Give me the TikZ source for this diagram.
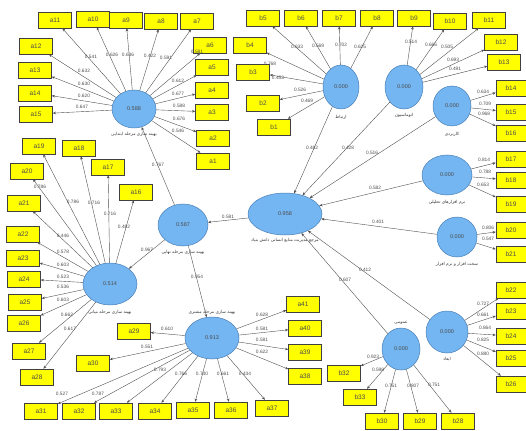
\documentclass[tikz,border=0pt]{standalone}
\usepackage{fontspec}
\setmainfont{Liberation Sans}
\newfontfamily\fa[Script=Arabic]{DejaVu Sans}
\TeXXeTstate=1
\usetikzlibrary{shapes.geometric,arrows.meta}
\definecolor{boxy}{HTML}{FFFF00}
\definecolor{ellb}{HTML}{74B6F2}
\definecolor{elld}{HTML}{4A7FB5}
\definecolor{lnc}{HTML}{505050}
\tikzset{
 ind/.style={draw=black!75, fill=boxy, line width=0.5pt, minimum width=33pt, minimum height=16pt, inner sep=0pt, font=\fontsize{6.5}{7}\selectfont, text=black!70},
 indr/.style={ind, minimum width=30pt},
 lv/.style={ellipse, draw=elld, fill=ellb, line width=0.5pt, inner sep=0pt, font=\fontsize{5.5}{6}\selectfont, text=black!70},
 ar/.style={draw=lnc, line width=0.4pt, -{Stealth[length=3.2pt,width=2.6pt]}},
 lab/.style={font=\fontsize{4.8}{5}\selectfont, text=black!70, inner sep=0.5pt},
 falab/.style={font=\fa\fontsize{4.3}{5}\selectfont, text=black!80, inner sep=0pt},
}
\newcommand\rtl[1]{\beginR #1\endR}
\newcommand\ld[4]{\draw[ar] (#1) -- (#2); \node[lab] (l-#2) at (#3) {#4};}
\begin{document}
\begin{tikzpicture}[x=1pt,y=-1pt]
\useasboundingbox (0,0) rectangle (526,430);
% latent variables
\node[lv, minimum width=44pt, minimum height=38pt] (e588) at (134,109) {0.588};
\node[falab] (t588) at (134,134) {\rtl{بهینه سازی مرحله ابتدایی}};
\node[lv, minimum width=36pt, minimum height=44pt] (eb1) at (341,87) {0.000};
\node[falab] (tb1) at (341,117) {\rtl{ارتباط}};
\node[lv, minimum width=38pt, minimum height=44pt] (eb2) at (404,87) {0.000};
\node[falab] (tb2) at (404,115) {\rtl{اتوماسیون}};
\node[lv, minimum width=38pt, minimum height=40pt] (eb3) at (452,106) {0.000};
\node[falab] (tb3) at (452,134) {\rtl{کاربردی}};
\node[lv, minimum width=50pt, minimum height=40pt] (eb4) at (447,175) {0.000};
\node[falab] (tb4) at (447,202) {\rtl{نرم افزارهای تحلیلی}};
\node[lv, minimum width=40pt, minimum height=40pt] (eb5) at (457,237) {0.000};
\node[falab] (tb5) at (457,264) {\rtl{سخت افزار و نرم افزار}};
\node[lv, minimum width=42pt, minimum height=42pt] (eb6) at (447,332) {0.000};
\node[falab] (tb6) at (447,359) {\rtl{ابعاد}};
\node[lv, minimum width=38pt, minimum height=42pt] (eb7) at (401,349) {0.000};
\node[falab] (tb7) at (401,323) {\rtl{عمومی}};
\node[lv, minimum width=74pt, minimum height=42pt] (ec) at (285,214) {0.958};
\node[falab] (tc) at (285,240) {\rtl{مرجع مدیریت منابع انسانی دانش بنیاد}};
\node[lv, minimum width=50pt, minimum height=42pt] (e587) at (183,225) {0.587};
\node[falab] (t587) at (183,252) {\rtl{بهینه سازی مرحله نهایی}};
\node[lv, minimum width=54pt, minimum height=42pt] (e514) at (110,284) {0.514};
\node[falab] (t514) at (110,312) {\rtl{بهینه سازی مرحله میانی}};
\node[lv, minimum width=54pt, minimum height=42pt] (e913) at (212,338) {0.913};
\node[falab] (t913) at (212,312) {\rtl{بهینه سازی مرحله مشتری}};
% indicators a
\foreach \n/\x/\y in {a1/213/161,a2/213/138,a3/212/112,a4/212/90,a5/212/67,a6/210/45,a7/197/21,a8/161/21,a9/126/20,a10/93/19,a11/55/20,a12/36/46,a13/35/70,a14/35/93,a15/36/114,
 a16/136/192,a17/108/167,a18/79/148,a19/39/146,a20/27/171,a21/24/203,a22/23/234,a23/23/258,a24/24/279,a25/25/302,a26/24/323,a27/29/351,a28/37/377,
 a29/134/331,a30/93/363,a31/41/411,a32/79/411,a33/116/411,a34/155/411,a35/193/410,a36/231/410,a37/272/408,a38/305/376,a39/305/352,a40/305/328,a41/303/304,
 b1/274/127,b2/263/103,b3/253/72,b4/250/45,b5/263/18,b6/301/18,b7/339/18,b8/377/18,b9/414/18,b10/450/21,b11/489/20,b12/501/42,b13/504/62,
 b28/458/421,b29/420/421,b30/382/421,b32/344/373,b33/360/397}
 {\node[ind] (\n) at (\x,\y) {\n};}
\foreach \n/\y in {b14/88,b15/112,b16/133,b17/159,b18/180,b19/204,b20/230,b21/254,b22/290,b23/311,b24/336,b25/358,b26/384}
 {\node[indr] (\n) at (511,\y) {\n};}
% loadings 0.588
\ld{e588}{a11}{91,57}{0.541}
\ld{e588}{a10}{112,55}{0.626}
\ld{e588}{a9}{128,55}{0.636}
\ld{e588}{a8}{150,56}{0.422}
\ld{e588}{a7}{166,58}{0.591}
\ld{e588}{a6}{197,52}{0.581}
\ld{e588}{a5}{178,81}{0.612}
\ld{e588}{a4}{178,94}{0.677}
\ld{e588}{a3}{179,106}{0.588}
\ld{e588}{a2}{179,119}{0.676}
\ld{e588}{a1}{178,131}{0.546}
\ld{e588}{a12}{84,71}{0.632}
\ld{e588}{a13}{84,84}{0.630}
\ld{e588}{a14}{84,96}{0.620}
\ld{e588}{a15}{82,107}{0.647}
% loadings 0.514
\ld{e514}{a20}{40,187}{0.786}
\ld{e514}{a19}{73,202}{0.786}
\ld{e514}{a18}{94,203}{0.716}
\ld{e514}{a17}{110,214}{0.716}
\ld{e514}{a16}{124,227}{0.482}
\ld{e514}{a21}{63,236}{0.446}
\ld{e514}{a22}{63,252}{0.578}
\ld{e514}{a23}{63,265}{0.603}
\ld{e514}{a24}{63,277}{0.523}
\ld{e514}{a25}{63,287}{0.536}
\ld{e514}{a26}{63,300}{0.603}
\ld{e514}{a27}{67,315}{0.662}
\ld{e514}{a28}{70,329}{0.617}
% loadings 0.913
\ld{e913}{a29}{167,329}{0.610}
\ld{e913}{a30}{147,347}{0.551}
\ld{e913}{a31}{62,394}{0.527}
\ld{e913}{a32}{98,394}{0.787}
\ld{e913}{a33}{160,370}{0.793}
\ld{e913}{a34}{181,374}{0.766}
\ld{e913}{a35}{202,374}{0.740}
\ld{e913}{a36}{223,374}{0.661}
\ld{e913}{a37}{245,374}{0.434}
\ld{e913}{a38}{262,352}{0.622}
\ld{e913}{a39}{262,340}{0.581}
\ld{e913}{a40}{262,329}{0.581}
\ld{e913}{a41}{262,315}{0.628}
% loadings b
\ld{eb1}{b5}{297,47}{0.633}
\ld{eb1}{b6}{318,46}{0.569}
\ld{eb1}{b7}{341,45}{0.702}
\ld{eb1}{b8}{360,47}{0.625}
\ld{eb1}{b4}{270,64}{0.768}
\ld{eb1}{b3}{278,78}{0.453}
\ld{eb1}{b2}{300,90}{0.526}
\ld{eb1}{b1}{307,101}{0.469}
\ld{eb2}{b9}{411,42}{0.514}
\ld{eb2}{b10}{431,45}{0.666}
\ld{eb2}{b11}{447,47}{0.505}
\ld{eb2}{b12}{453,60}{0.693}
\ld{eb2}{b13}{455,69}{0.491}
\ld{eb3}{b14}{483,92}{0.634}
\ld{eb3}{b15}{485,104}{0.709}
\ld{eb3}{b16}{484,114}{0.968}
\ld{eb4}{b17}{484,160}{0.814}
\ld{eb4}{b18}{485,172}{0.788}
\ld{eb4}{b19}{483,185}{0.653}
\ld{eb5}{b20}{488,228}{0.806}
\ld{eb5}{b21}{488,239}{0.547}
\ld{eb6}{b22}{483,304}{0.727}
\ld{eb6}{b23}{483,315}{0.661}
\ld{eb6}{b24}{485,328}{0.864}
\ld{eb6}{b25}{483,340}{0.825}
\ld{eb6}{b26}{483,354}{0.880}
\ld{eb7}{b32}{373,357}{0.923}
\ld{eb7}{b33}{378,370}{0.598}
\ld{eb7}{b30}{391,386}{0.751}
\ld{eb7}{b29}{413,386}{0.807}
\ld{eb7}{b28}{434,385}{0.751}
% structural paths
\ld{eb1}{ec}{312,148}{0.482}
\node[lab] (p2) at (348,148) {0.428}; \draw[ar] (eb2) -- (ec);
\node[lab] (p3) at (372,153) {0.516}; \draw[ar] (eb3) -- (ec);
\node[lab] (p4) at (375,188) {0.582}; \draw[ar] (eb4) -- (ec);
\node[lab] (p5) at (378,222) {0.401}; \draw[ar] (eb5) -- (ec);
\node[lab] (p6) at (365,270) {0.412}; \draw[ar] (eb6) -- (ec);
\node[lab] (p7) at (345,280) {0.607}; \draw[ar] (eb7) -- (ec);
\node[lab] (p8) at (228,217) {0.581}; \draw[ar] (ec) -- (e587);
\node[lab] (p9) at (147,250) {0.967}; \draw[ar] (e587) -- (e514);
\node[lab] (p10) at (158,165) {0.767}; \draw[ar] (e587) -- (e588);
\node[lab] (p11) at (197,277) {0.954}; \draw[ar] (e587) -- (e913);
\end{tikzpicture}
\end{document}
